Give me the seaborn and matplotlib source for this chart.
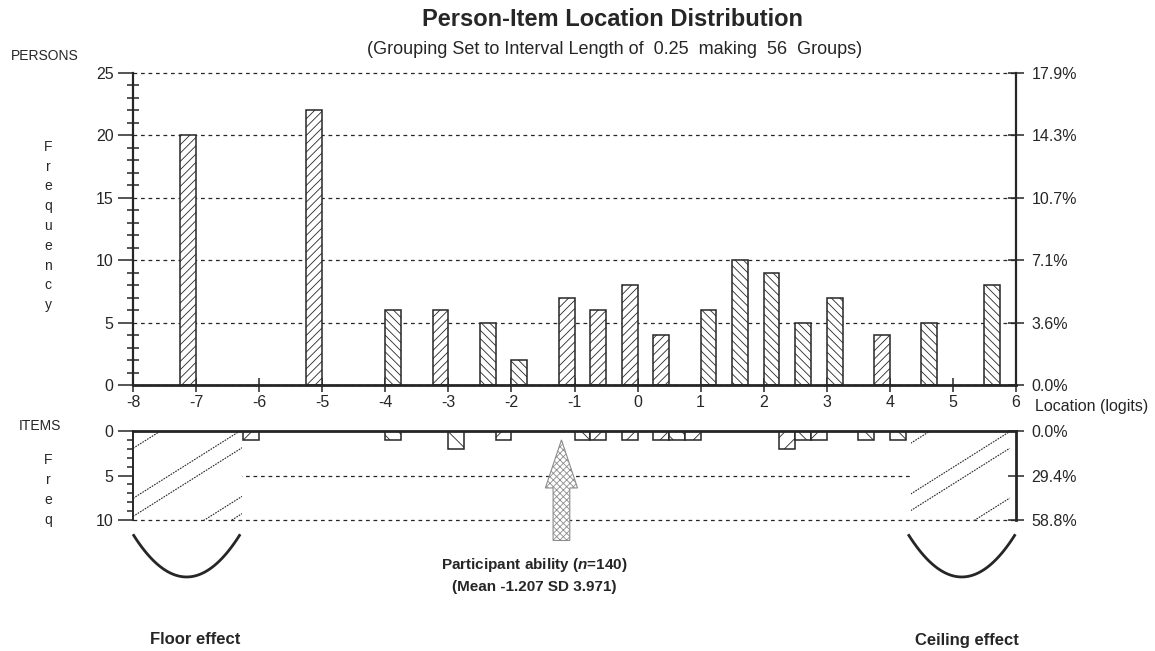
import numpy as np
import pandas as pd
import matplotlib.pyplot as plt
import matplotlib.patches as mpatches
from matplotlib.ticker import MultipleLocator
import seaborn as sns

# ===================== data =====================
interval = 0.25
loc_min, loc_max = -8, 6

# person groups (midpoint of each 0.25 logit group) and counts
person_loc = [-7.125, -5.125, -3.875, -3.125, -2.375, -1.875, -1.125, -0.625, -0.125,
              0.375, 1.125, 1.625, 2.125, 2.625, 3.125, 3.875, 4.625, 5.625]
person_count = [20, 22, 6, 6, 5, 2, 7, 6, 8, 4, 6, 10, 9, 5, 7, 4, 5, 8]

# item groups and counts
item_loc = [-6.125, -3.875, -2.875, -2.125, -0.875, -0.625, -0.125, 0.375, 0.625,
            0.875, 2.375, 2.625, 2.875, 3.625, 4.125]
item_count = [1, 1, 2, 1, 1, 1, 1, 1, 1, 1, 2, 1, 1, 1, 1]

mean_loc = -1.207
sd_loc = 3.971

person_ticks = [0, 5, 10, 15, 20, 25]
item_ticks = [0, 5, 10]

# hatch direction of each drawn bar (style only)
person_hatch = ['/', '/', '\\', '/', '\\', '\\', '/', '/', '/', '/', '\\', '\\', '\\',
                '\\', '\\', '/', '\\', '\\']
item_hatch = ['/', '\\', '\\', '/', '\\', '/', '/', '/', '\\', '/', '/', '\\', '/', '\\', '\\']

# ===================== style =====================
sns.set_theme(style='white')
plt.rcParams['font.family'] = ['Liberation Sans', 'DejaVu Sans']
plt.rcParams['axes.unicode_minus'] = False
plt.rcParams['mathtext.fontset'] = 'custom'
plt.rcParams['mathtext.it'] = 'Liberation Sans:italic:bold'
plt.rcParams['hatch.linewidth'] = 0.6
ink = '#262626'
tick_fs = 11.5

W, H = 1155, 651
fig = plt.figure(figsize=(W / 100, H / 100), dpi=100)


def fx(px):
    return px / W


def fy(py):
    return 1 - py / H


ax1 = fig.add_axes([fx(133), fy(385), fx(1016) - fx(133), fy(73) - fy(385)])
ax2 = fig.add_axes([fx(133), fy(520), fx(1016) - fx(133), fy(431) - fy(520)])

n_groups = int(round((loc_max - loc_min) / interval))
n_persons = sum(person_count)
n_items = sum(item_count)


def hist_panel(ax, locs, counts, hatches, dens):
    df = pd.DataFrame({'loc': locs, 'count': counts})
    sns.histplot(data=df, x='loc', weights='count', binwidth=interval,
                 binrange=(loc_min, loc_max), ax=ax, color='white',
                 edgecolor=ink, linewidth=1.1, alpha=1)
    bars = sorted([p for p in ax.patches if p.get_height() > 0], key=lambda p: p.get_x())
    for p in ax.patches:
        if p.get_height() <= 0:
            p.set_visible(False)
    for p, h in zip(bars, hatches):
        p.set_facecolor('white')
        p.set_edgecolor(ink)
        p.set_linewidth(1.1)
        p.set_hatch(h * dens)
    ax.set_ylabel('')
    ax.set_xlabel('')
    ax.set_xlim(loc_min, loc_max)
    ax.set_axisbelow(True)


# ===================== persons panel =====================
hist_panel(ax1, person_loc, person_count, person_hatch, 4)
ax1.set_ylim(0, person_ticks[-1])
ax1.set_yticks(person_ticks)
ax1.yaxis.set_minor_locator(MultipleLocator(1))
ax1.set_xticks(range(loc_min, loc_max + 1))
ax1.yaxis.grid(True, linestyle=(0, (3, 3)), color=ink, linewidth=0.9)
ax1.xaxis.grid(False)
ax1.spines['top'].set_visible(False)
ax1.spines['left'].set_linewidth(1.6)
ax1.spines['bottom'].set_linewidth(2.0)
ax1.spines['right'].set_linewidth(1.6)
for s in ax1.spines.values():
    s.set_color(ink)
ax1.tick_params(axis='y', which='major', direction='out', length=11, width=1.1,
                color=ink, labelsize=tick_fs, labelcolor=ink, pad=3, left=True)
ax1.tick_params(axis='y', which='minor', direction='inout', length=8, width=1.1,
                color=ink, left=True)
ax1.tick_params(axis='x', direction='inout', length=10, width=1.1, color=ink,
                labelsize=tick_fs, labelcolor=ink, pad=2.5, bottom=True)

ax1r = ax1.twinx()
ax1r.set_ylim(ax1.get_ylim())
ax1r.set_yticks(person_ticks)
ax1r.set_yticklabels([f'{v / n_persons * 100:.1f}%' for v in person_ticks])
for s in ax1r.spines.values():
    s.set_visible(False)
ax1r.tick_params(axis='y', direction='inout', length=12, width=1.1, color=ink,
                 labelsize=tick_fs, labelcolor=ink, pad=5, right=True)
ax1r.grid(False)

# ===================== items panel =====================
hist_panel(ax2, item_loc, item_count, item_hatch, 2)
ax2.set_ylim(item_ticks[-1], 0)
ax2.set_yticks(item_ticks)
ax2.yaxis.set_minor_locator(MultipleLocator(1))
ax2.set_xticks([])
ax2.yaxis.grid(True, linestyle=(0, (3, 3)), color=ink, linewidth=0.9)
ax2.xaxis.grid(False)
ax2.spines['bottom'].set_visible(False)
ax2.spines['top'].set_linewidth(2.0)
ax2.spines['left'].set_linewidth(1.4)
ax2.spines['right'].set_linewidth(2.0)
for s in ax2.spines.values():
    s.set_color(ink)
ax2.tick_params(axis='y', which='major', direction='out', length=11, width=1.1,
                color=ink, labelsize=tick_fs, labelcolor=ink, pad=3, left=True)
ax2.tick_params(axis='y', which='minor', direction='inout', length=8, width=1.1,
                color=ink, left=True)

ax2r = ax2.twinx()
ax2r.set_ylim(ax2.get_ylim())
ax2r.set_yticks(item_ticks)
ax2r.set_yticklabels([f'{v / n_items * 100:.1f}%' for v in item_ticks])
for s in ax2r.spines.values():
    s.set_visible(False)
ax2r.tick_params(axis='y', direction='inout', length=12, width=1.1, color=ink,
                 labelsize=tick_fs, labelcolor=ink, pad=5, right=True)
ax2r.grid(False)

# keep the edge gridlines whole
for gl in ax1.get_ygridlines() + ax2.get_ygridlines():
    gl.set_clip_on(False)

# ===================== floor / ceiling shading =====================
px_x = 883 / (loc_max - loc_min)
px_y = 89 / item_ticks[-1]
slope = 0.63 * px_x / px_y
zones = [(-8.0, -6.27, [1.95, 7.57, 9.6, 15.06, 17.0], -7.15),
         (4.33, 5.9, [1.38, 7.08, 8.95, 14.55], 5.14)]
for x0, x1, starts, xc in zones:
    cover_w = (loc_max - x0) if x0 > 0 else (x1 - x0)
    cover = mpatches.Rectangle((x0, 0.3), cover_w, 9.2,
                               facecolor='white', edgecolor='none', zorder=0.8)
    ax2.add_patch(cover)
    clip = mpatches.Rectangle((x0, 0), x1 - x0, 10, facecolor='none',
                              edgecolor='none')
    ax2.add_patch(clip)
    xs = np.array([x0, x1])
    for y0 in starts:
        ln, = ax2.plot(xs, y0 - slope * (xs - x0), linestyle=(0, (1.5, 1)),
                       color=ink, linewidth=0.8, zorder=2)
        ln.set_clip_path(clip)
    t = np.linspace(-1, 1, 80)
    ax2.plot(xc + 0.85 * t, 11.6 + 4.8 * (1 - t ** 2), color=ink, linewidth=2.0,
             clip_on=False, solid_capstyle='butt')

# mean arrow
arrow = mpatches.FancyArrow(mean_loc, 12.3, 0, -11.3, width=0.265, head_width=0.51,
                            head_length=5.4, length_includes_head=True,
                            facecolor='white', edgecolor='#8c8c8c', hatch='xxxxx',
                            linewidth=0.8, clip_on=False, zorder=6)
ax2.add_patch(arrow)

# ===================== texts =====================
fig.text(fx(613), fy(20), 'Person-Item Location Distribution', ha='center', va='center',
         fontsize=17, weight='bold', color=ink)
fig.text(fx(615), fy(49),
         f'(Grouping Set to Interval Length of  {interval:.2f}  making  {n_groups}  Groups)',
         ha='center', va='center', fontsize=13, color=ink)
fig.text(fx(45), fy(56), 'PERSONS', ha='center', va='center', fontsize=10, color=ink)
fig.text(fx(48), fy(226), '\n'.join('Frequency'), ha='center', va='center',
         fontsize=10, linespacing=1.53, color=ink)
fig.text(fx(40), fy(426), 'ITEMS', ha='center', va='center', fontsize=10, color=ink)
fig.text(fx(48), fy(490), '\n'.join('Freq'), ha='center', va='center',
         fontsize=10, linespacing=1.53, color=ink)
fig.text(fx(1035), fy(406), 'Location (logits)', ha='left', va='center',
         fontsize=tick_fs, color=ink)
fig.text(fx(534), fy(565), f'Participant ability ($n$={n_persons})', ha='center',
         va='center', fontsize=11, weight='bold', color=ink)
fig.text(fx(534), fy(587), f'(Mean {mean_loc:.3f} SD {sd_loc:.3f})', ha='center',
         va='center', fontsize=11, weight='bold', color=ink)
fig.text(fx(195), fy(640), 'Floor effect', ha='center', va='center', fontsize=12,
         weight='bold', color=ink)
fig.text(fx(967), fy(640), 'Ceiling effect', ha='center', va='center', fontsize=12,
         weight='bold', color=ink)

fig.savefig('out.png', dpi=100, facecolor='white')
